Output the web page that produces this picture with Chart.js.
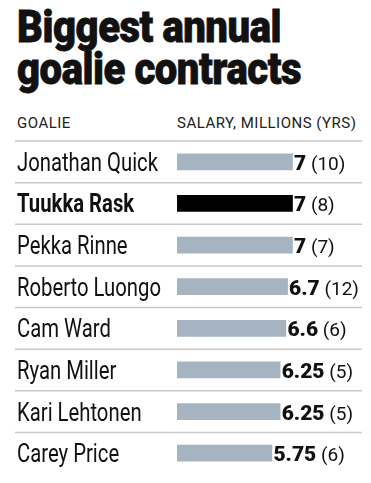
<!DOCTYPE html>
<html>
<head>
<meta charset="utf-8">
<script src="https://cdn.jsdelivr.net/npm/chart.js@4"></script>
<style>
  html, body { margin: 0; padding: 0; background: #fff; }
  #wrap { position: relative; width: 371px; height: 483px; overflow: hidden; }
  #wrap canvas { position: absolute; left: 0; top: 0; }
  .title {
    position: absolute; left: 17px; top: 6px; margin: 0;
    font-family: Roboto, sans-serif; font-weight: 900; font-size: 44px; line-height: 42px;
    color: #111; transform: scaleX(0.91); transform-origin: 0 0; white-space: nowrap;
    letter-spacing: -0.5px; -webkit-text-stroke: 0.8px #111;
  }
  .head {
    position: absolute; top: 114px; font-family: Roboto, sans-serif; font-size: 15px;
    color: #222; white-space: nowrap; letter-spacing: 0.5px;
  }
</style>
</head>
<body>
<div id="wrap">
  <h1 class="title">Biggest annual<br>goalie contracts</h1>
  <div class="head" style="left:17px">GOALIE</div>
  <div class="head" style="left:177px">SALARY, MILLIONS (YRS)</div>
  <canvas id="chart" width="371" height="483"></canvas>
</div>
<script>
const goalies = ["Jonathan Quick", "Tuukka Rask", "Pekka Rinne", "Roberto Luongo", "Cam Ward", "Ryan Miller", "Kari Lehtonen", "Carey Price"];
const salaries = [7, 7, 7, 6.7, 6.6, 6.25, 6.25, 5.75];
const years = [10, 8, 7, 12, 6, 5, 5, 6];
const highlighted = "Tuukka Rask";

const barColors = goalies.map(g => g === highlighted ? "#000000" : "#a5b4c0");

// names, row rules and value labels drawn on top of the bars
const rowsPlugin = {
    id: "rows",
    afterDatasetsDraw(chart) {
        const ctx = chart.ctx;
        const y = chart.scales.y;
        const meta = chart.getDatasetMeta(0);
        ctx.save();

        ctx.strokeStyle = "#c9c9c9";
        ctx.lineWidth = 1.5;
        goalies.forEach((g, i) => {
            const ly = i === 0 ? chart.chartArea.top : (y.getPixelForValue(i - 1) + y.getPixelForValue(i)) / 2;
            ctx.beginPath();
            ctx.moveTo(15, ly);
            ctx.lineTo(362, ly);
            ctx.stroke();
        });

        ctx.fillStyle = "#111";
        ctx.textBaseline = "alphabetic";
        goalies.forEach((g, i) => {
            const cy = y.getPixelForValue(i);
            ctx.save();
            ctx.translate(17, cy + 9);
            ctx.scale(0.78, 1);
            ctx.font = (g === highlighted ? "bold " : "") + "26px Roboto, sans-serif";
            ctx.textAlign = "left";
            ctx.fillText(g, 0, 0);
            ctx.restore();

            const bar = meta.data[i];
            let x = bar.x + 1.5;
            ctx.font = "900 21px Roboto, sans-serif";
            const num = String(salaries[i]);
            ctx.fillText(num, x, cy + 8);
            x += ctx.measureText(num).width;
            ctx.font = "19px Roboto, sans-serif";
            ctx.fillText(" (" + years[i] + ")", x, cy + 8);
        });
        ctx.restore();
    }
};

new Chart(document.getElementById("chart"), {
    type: "bar",
    data: {
        labels: goalies,
        datasets: [{
            data: salaries,
            backgroundColor: barColors,
            barThickness: 16
        }]
    },
    options: {
        indexAxis: "y",
        responsive: false,
        animation: false,
        layout: { padding: { left: 177, right: 29, top: 141, bottom: 9 } },
        scales: {
            x: { display: false, min: 0, max: 10 },
            y: { display: false }
        },
        plugins: {
            legend: { display: false },
            tooltip: { enabled: false }
        }
    },
    plugins: [rowsPlugin]
});
</script>
</body>
</html>
